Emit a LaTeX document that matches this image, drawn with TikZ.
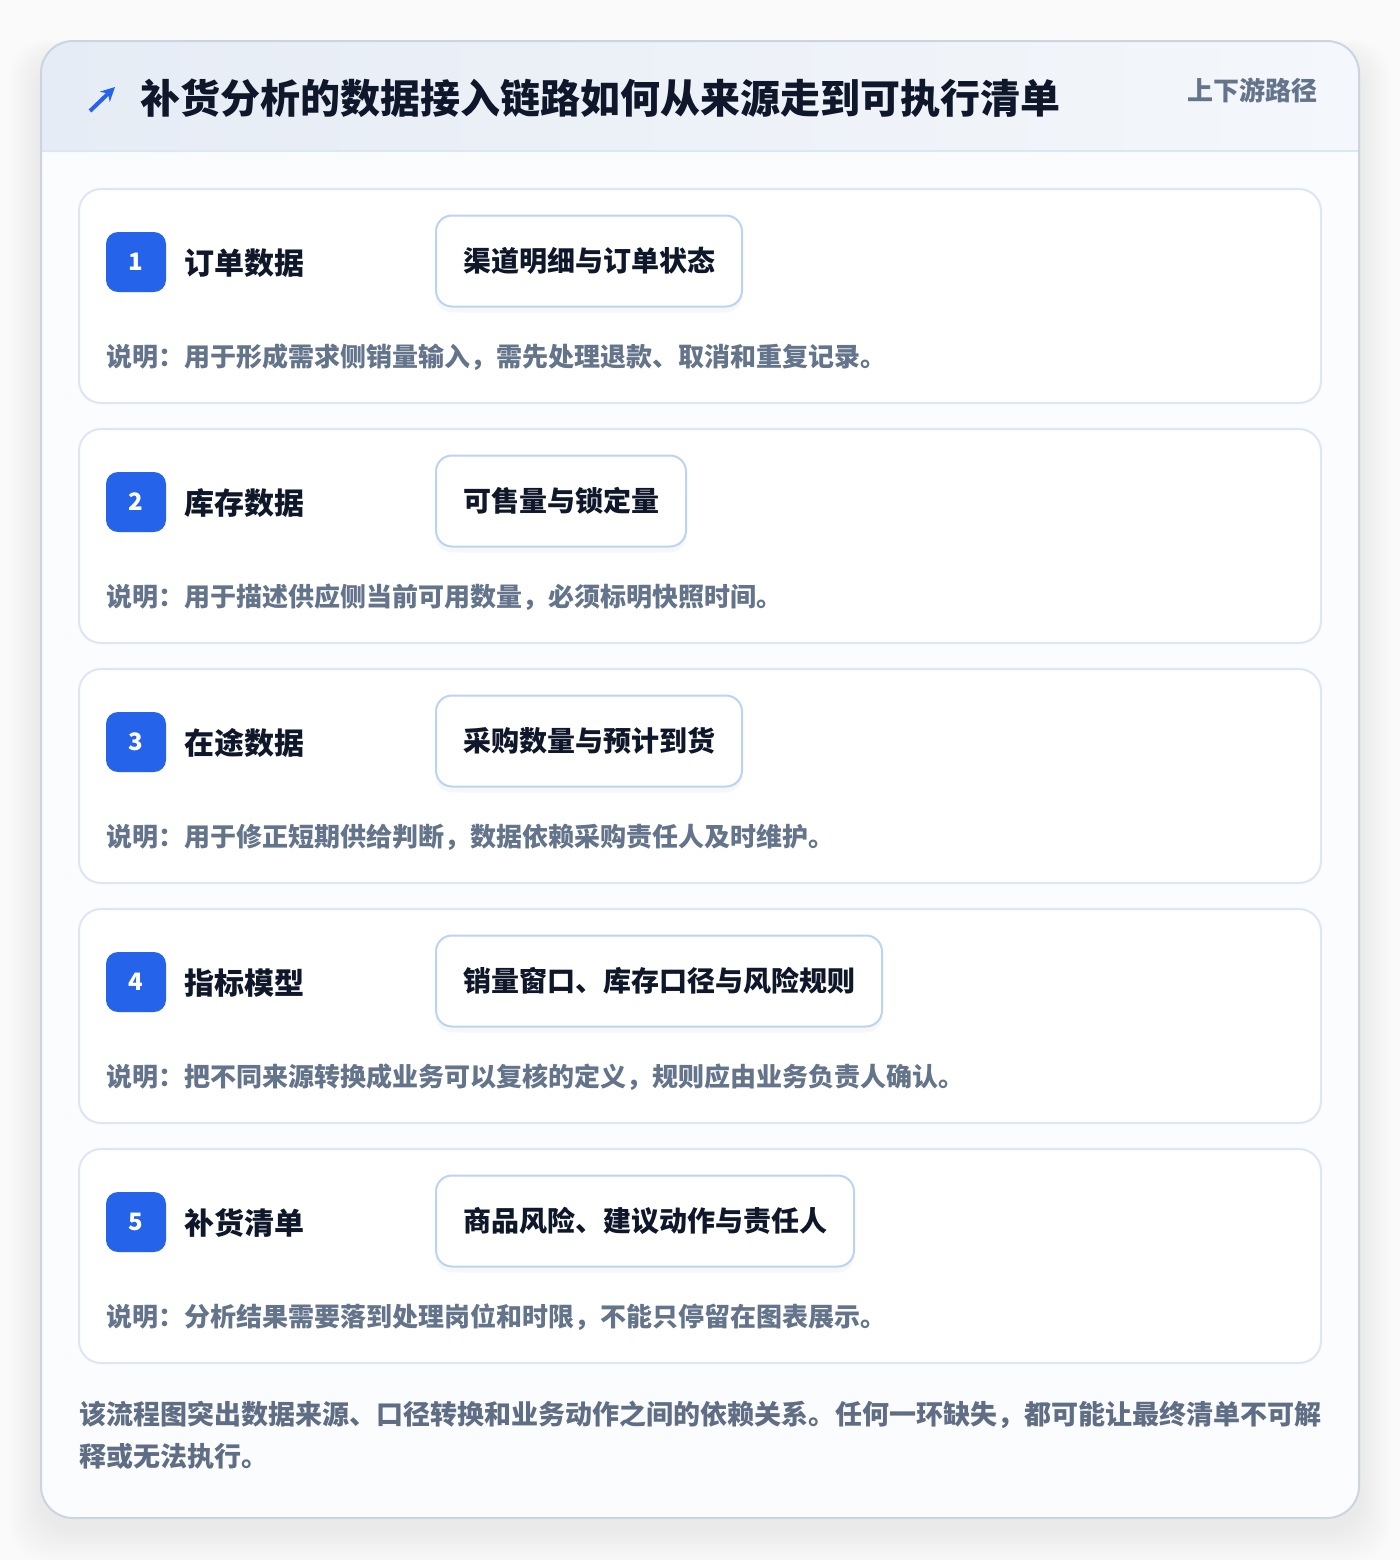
\documentclass[tikz,border=0pt]{standalone}
\usepackage{fontspec}
\setmainfont{Noto Sans CJK SC}
\usetikzlibrary{positioning,shadows,arrows.meta}

\definecolor{pagebg}{HTML}{FAFAFB}
\definecolor{cardbg}{HTML}{FBFCFE}
\definecolor{cardline}{HTML}{CBD5E1}
\definecolor{headleft}{HTML}{E6ECF5}
\definecolor{headright}{HTML}{F4F7FB}
\definecolor{headline}{HTML}{DCE7F5}
\definecolor{rowline}{HTML}{DCE6F5}
\definecolor{pillline}{HTML}{BCD4F2}
\definecolor{badgeblue}{HTML}{2563EB}
\definecolor{titleink}{HTML}{0F172A}
\definecolor{noteink}{HTML}{64748B}

\begin{document}
\begin{tikzpicture}[x=0.5pt,y=-0.5pt,
	rowcard/.style={draw=rowline,line width=1pt,fill=white,rounded corners=11pt},
	badge/.style={fill=badgeblue,rounded corners=6pt,minimum size=30pt,inner sep=0pt,text=white,font=\bfseries\fontsize{12}{14}\selectfont},
	steplabel/.style={anchor=west,inner sep=0pt,text=titleink,font=\bfseries\fontsize{15}{18}\selectfont},
	pill/.style={draw=pillline,line width=1pt,fill=white,rounded corners=8pt,anchor=west,minimum height=45.5pt,inner xsep=13.5pt,inner ysep=0pt,text=titleink,font=\bfseries\fontsize{14}{17}\selectfont,drop shadow={opacity=.06,shadow xshift=0pt,shadow yshift=-3pt}},
	note/.style={anchor=west,inner sep=0pt,text=noteink,font=\bfseries\fontsize{13}{16}\selectfont}]
	
	\useasboundingbox[fill=pagebg] (0,0) rectangle (1400,1560);
	
	% soft shadow of the card
	\foreach \s in {1,...,16}
		\fill[black,opacity=.005,rounded corners=18pt] (41-2*\s,56-\s) rectangle (1359+2*\s,1530+2*\s);
	
	\path[fill=cardbg,rounded corners=16pt] (41,41) rectangle (1359,1518);
	\begin{scope}
		\clip[rounded corners=16pt] (41,41) rectangle (1359,1518);
		\shade[left color=headleft,right color=headright] (41,41) rectangle (1359,151);
	\end{scope}
	\draw[headline,line width=1pt] (41,151) -- (1359,151);
	\draw[cardline,line width=1pt,rounded corners=16pt] (41,41) rectangle (1359,1518);
	
	% header
	\draw[badgeblue,line width=2pt,-{Stealth[length=7pt,width=7pt]}] (90,111) -- (115,87);
	\node[anchor=west,inner sep=0pt,text=titleink,font=\bfseries\fontsize{20}{24}\selectfont] (title) at (140,98) {补货分析的数据接入链路如何从来源走到可执行清单};
	\node[anchor=east,inner sep=0pt,text=noteink,font=\bfseries\fontsize{13}{16}\selectfont] (tag) at (1318,90) {上下游路径};
	
	% steps
	\foreach \i/\name/\detail/\desc in {
		1/订单数据/渠道明细与订单状态/{说明：用于形成需求侧销量输入，需先处理退款、取消和重复记录。},
		2/库存数据/可售量与锁定量/{说明：用于描述供应侧当前可用数量，必须标明快照时间。},
		3/在途数据/采购数量与预计到货/{说明：用于修正短期供给判断，数据依赖采购责任人及时维护。},
		4/指标模型/销量窗口、库存口径与风险规则/{说明：把不同来源转换成业务可以复核的定义，规则应由业务负责人确认。},
		5/补货清单/商品风险、建议动作与责任人/{说明：分析结果需要落到处理岗位和时限，不能只停留在图表展示。}}
	{
		\pgfmathsetmacro\top{189+240*(\i-1)}
		\path[rowcard] (79,\top) rectangle (1321,\top+214);
		\node[badge] (b\i) at (136,\top+73) {\i};
		\node[steplabel] (s\i) at (184,\top+74) {\name};
		\node[pill] (p\i) at (435,\top+72) {\detail};
		\node[note] (n\i) at (106,\top+168) {\desc};
	}
	
	% closing remark
	\node[note,text=noteink!95!black,font=\bfseries\fontsize{13.5}{16}\selectfont] (foot1) at (79,1415) {该流程图突出数据来源、口径转换和业务动作之间的依赖关系。任何一环缺失，都可能让最终清单不可解};
	\node[note,text=noteink!95!black,font=\bfseries\fontsize{13.5}{16}\selectfont] (foot2) at (79,1456) {释或无法执行。};
\end{tikzpicture}
\end{document}
